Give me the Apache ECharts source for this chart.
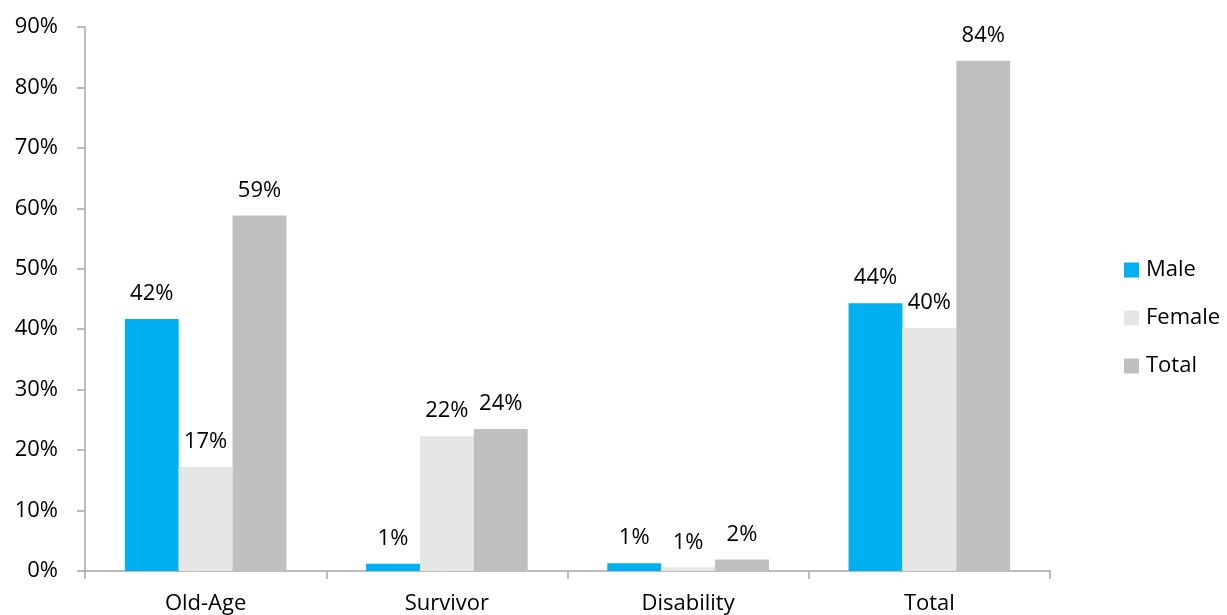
<!DOCTYPE html>
<html>
<head>
<meta charset="utf-8">
<title>Coverage by benefit type</title>
<script src="https://cdn.jsdelivr.net/npm/echarts@6/dist/echarts.min.js"></script>
<style>
  html, body { margin: 0; padding: 0; background: #ffffff; }
  #chart { width: 1227px; height: 615px; }
</style>
</head>
<body>
<div id="chart"></div>
<script>
// Benefit categories along the x axis
const categories = ['Old-Age', 'Survivor', 'Disability', 'Total'];

// Shares in percent for each group
const male = [41.7, 1.2, 1.3, 44.3];
const female = [17.2, 22.3, 0.6, 40.2];
const total = [58.8, 23.5, 1.9, 84.4];

// Y axis range in percent
const yMin = 0;
const yMax = 90;
const yStep = 10;

const FONT = '"Open Sans", "Noto Sans", sans-serif';
const AXIS_GREY = '#a6a6a6';
const FONT_SIZE = 22;

function barSeries(name, data, color) {
  return {
    name: name,
    type: 'bar',
    data: data,
    barGap: '0%',
    barCategoryGap: '33%',
    itemStyle: { color: color },
    label: {
      show: true,
      position: 'top',
      distance: 14,
      color: '#000000',
      fontFamily: FONT,
      fontSize: FONT_SIZE,
      formatter: p => Math.round(p.value) + '%'
    }
  };
}

const chart = echarts.init(document.getElementById('chart'), null, { renderer: 'canvas' });

chart.setOption({
  animation: false,
  backgroundColor: '#ffffff',
  textStyle: { fontFamily: FONT },
  grid: { left: 85, right: 177, top: 27, bottom: 43, containLabel: false },
  legend: {
    orient: 'vertical',
    left: 1124,
    top: 259,
    padding: 0,
    itemWidth: 15,
    itemHeight: 15,
    itemGap: 26,
    icon: 'rect',
    textStyle: { fontFamily: FONT, fontSize: FONT_SIZE, color: '#000000', padding: [0, 0, 0, 2] },
    data: ['Male', 'Female', 'Total']
  },
  xAxis: {
    type: 'category',
    data: categories,
    boundaryGap: true,
    axisLine: { show: true, lineStyle: { color: AXIS_GREY, width: 1.5 } },
    axisTick: { show: true, alignWithLabel: false, length: 8, lineStyle: { color: AXIS_GREY, width: 1.5 } },
    axisLabel: { color: '#000000', fontFamily: FONT, fontSize: FONT_SIZE, margin: 22 },
    splitLine: { show: false }
  },
  yAxis: {
    type: 'value',
    min: yMin,
    max: yMax,
    interval: yStep,
    axisLine: { show: true, lineStyle: { color: AXIS_GREY, width: 1.5 } },
    axisTick: { show: true, length: 8, lineStyle: { color: AXIS_GREY, width: 1.5 } },
    axisLabel: { color: '#000000', fontFamily: FONT, fontSize: FONT_SIZE, margin: 27, formatter: '{value}%' },
    splitLine: { show: false }
  },
  series: [
    barSeries('Male', male, '#00b0f0'),
    barSeries('Female', female, '#e6e6e6'),
    barSeries('Total', total, '#bfbfbf')
  ]
});
</script>
</body>
</html>
